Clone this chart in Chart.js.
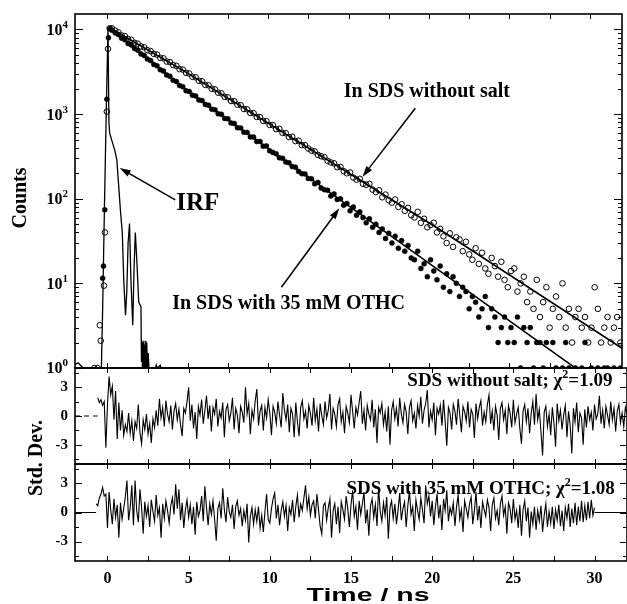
<!DOCTYPE html>
<html>
<head>
<meta charset="utf-8">
<script src="https://cdn.jsdelivr.net/npm/chart.js@4.4.1/dist/chart.umd.min.js"></script>
<style>
  html, body { margin: 0; padding: 0; background: #fff; }
  #wrap { position: relative; width: 627px; height: 604px; }
  #wrap canvas { position: absolute; left: 0; top: 0; }
</style>
</head>
<body>
<div id="wrap">
  <canvas id="decay" width="627" height="604"></canvas>
  <canvas id="res1" width="627" height="604"></canvas>
  <canvas id="res2" width="627" height="604"></canvas>
</div>
<script>
// Decaimentos (contagens), grade de canais de 0.3 a 31.9 ns
const decayStart = 0.3, decayStep = 0.2;
const countsNoSalt = [
  10300, 9700, 9250, 8500, 8350, 7700, 7550, 6950, 6800, 6300,
  6150, 5700, 5560, 5150, 5050, 4620, 4560, 4180, 4120, 3800,
  3720, 3400, 3360, 3080, 3020, 2760, 2720, 2480, 2440, 2210,
  2190, 1990, 1960, 1790, 1760, 1600, 1580, 1430, 1420, 1290,
  1275, 1150, 1140, 1030, 1025, 925, 920, 830, 825, 745,
  740, 665, 670, 600, 595, 535, 540, 480, 485, 430,
  428, 392, 370, 362, 330, 318, 310, 280, 268, 262,
  236, 238, 212, 200, 204, 178, 168, 172, 150, 146,
  150, 128, 120, 126, 104, 112, 96, 90, 98, 80,
  86, 72, 78, 64, 60, 70, 52, 58, 46, 49,
  52, 40, 44, 36, 30, 39, 27, 35, 33, 24,
  31, 22, 19, 26, 17, 23, 15, 13, 20, 16,
  12, 18, 11, 9, 14, 15, 8, 10, 12, 6,
  8, 5, 11, 4, 6, 9, 3, 5, 7, 4,
  10, 3, 5, 2, 4, 5, 3, 4, 2, 3,
  9, 5, 2, 3, 4, 2, 3, 4, 2
];
const countsOTHC = [
  9800, 9100, 8700, 7900, 7550, 6850, 6560, 5950, 5700, 5150,
  4930, 4470, 4290, 3870, 3720, 3350, 3230, 2900, 2800, 2510,
  2430, 2180, 2110, 1890, 1850, 1670, 1640, 1470, 1445, 1300,
  1275, 1145, 1125, 1010, 995, 890, 880, 785, 775, 692,
  686, 610, 608, 538, 536, 474, 474, 418, 420, 368,
  352, 340, 305, 300, 272, 266, 240, 236, 210, 198,
  196, 174, 172, 150, 156, 134, 128, 126, 108, 114,
  98, 100, 84, 88, 72, 80, 64, 70, 60, 52,
  58, 46, 50, 40, 44, 34, 39, 30, 36, 26,
  32, 24, 28, 20, 19, 24, 15, 17, 12, 19,
  14, 11, 16, 9, 13, 8, 12, 10, 7, 9,
  8, 5, 7, 6, 4, 5, 7, 3, 5, 4,
  2, 3, 4, 2, 3, 2, 4, 1, 3, 2,
  3, 1, 2, 2, 1, 2, null, 2, 1, null,
  1, 2, 1, null, 1, null, 1, 2, null, 1,
  null, 1, null, 1, 1, null, 1, null, 1
];
// subida antes do pico
const riseNoSaltT = [-0.8, -0.6, -0.46, -0.4, -0.2, -0.14, -0.02, 0.05, 0.15];
const riseNoSaltC = [1, 1, 3.2, 2.1, 9.4, 40, 1070, 5900, 10300];
const riseOTHCT = [-0.28, -0.23, -0.15, -0.02, 0.08, 0.18];
const riseOTHCC = [11.5, 16, 74, 1500, 8000, 10300];
// IRF
const irfT = [-2.0, -1.8, -1.6, -1.5, -0.36, -0.28, -0.17, -0.06, 0.05, 0.11, 0.154, 0.3, 0.46, 0.6,
  0.73, 0.83, 0.94, 1.03, 1.14, 1.22, 1.3, 1.39, 1.47, 1.59, 1.67, 1.75, 1.86, 1.96, 2.1,
  2.13, 2.16, 2.19, 2.22, 2.25, 2.28, 2.31, 2.34, 2.37, 2.4, 2.43, 2.46, 2.5, 2.55, 2.6,
  3.0, 3.05, 3.1, 3.3, 3.35, 3.4, 32];
const irfC = [1.1, 1.15, 1.05, 1, 1, 5.2, 79, 1000, 10470, 790, 600, 480, 380, 288,
  130, 70, 40, 11, 4.2, 8, 30, 51, 12, 3.2, 15, 40, 16, 6, 5.3,
  1.2, 2.1, 1, 2, 1.1, 2.1, 1, 1.9, 1, 2.1, 1, 2, 1, 1.5, 1,
  1, 1.08, 1, 1.08, 1, 1, 1];
// curvas ajustadas
const fitNoSaltT = [0.15, 4.87, 20.67, 32];
const fitNoSaltC = [10470, 3160, 43.3, 1.71];
const fitOTHCT = [0.15, 4.87, 18.0, 29.0];
const fitOTHCC = [10470, 1950, 32.4, 1.03];

// Resíduos (desvio padrão), passo de 0.1 ns
const resStep = 0.1;
const resNoSaltStart = -0.6;
const resNoSalt = [
  1.9, 1.4, 1.7, 1.1, 1.5, -3.3, 1.2, 4.1, 2.2, 3.1,
  -0.4, 2.6, -2.4, 1.4, -1.5, 0.6, -2.0, -0.9, -1.6, 0.3,
  -1.8, -0.5, -2.6, -0.6, -1.3, 1.2, -1.7, -2.9, -0.4, -1.4,
  0.2, -1.9, -0.8, -2.8, -0.3, -1.2, 0.6, -1.0, 1.8, -0.2,
  0.9, -1.1, 1.6, 0.2, -0.6, 1.1, -1.4, 0.5, 1.3, -0.4,
  0.7, -0.9, -2.1, 0.8, 0.3, 1.5, 3.0, -0.5, 1.2, -1.3,
  0.4, -2.4, 1.0, 0.1, 1.7, -0.8, 0.6, 2.1, -0.3, 1.1,
  -1.6, 0.9, 0.2, 1.8, -1.1, 0.5, -0.2, 1.4, -2.2, 0.7,
  1.2, -0.5, 0.3, 1.9, -1.4, 0.8, 0.1, -1.8, 1.0, 0.4,
  -0.7, 3.0, 0.2, 1.3, -1.9, 0.6, -0.3, 1.6, 2.8, -1.0,
  0.5, 1.1, -1.5, 0.9, -0.2, 1.7, 0.3, -2.0, 1.0, 0.4,
  -0.8, 1.5, 0.1, -1.2, 2.4, 0.6, -0.4, 1.2, -1.7, 0.8,
  0.2, -2.2, 1.4, -0.6, -2.1, 0.9, 1.6, -0.3, 0.5, -1.3,
  1.1, 0.3, -1.0, 1.9, -0.5, 0.7, -1.6, 1.3, 0.0, -0.9,
  1.5, -0.2, 0.6, 2.3, -1.4, 0.8, 0.2, -1.1, 1.2, 1.8,
  -0.6, 0.4, -1.8, 1.0, 0.3, -0.7, 2.2, 0.5, -1.3, 0.9,
  0.1, 1.4, 2.6, -0.8, 0.6, -1.5, 1.1, 0.2, -0.4, 1.7,
  -1.2, 0.7, -2.8, 0.9, 0.3, 1.3, -0.9, 0.4, -1.6, 1.0,
  -3.0, 0.6, 1.5, -0.3, 0.8, -1.1, 1.9, 0.2, -0.7, 1.2,
  0.4, -1.9, 0.9, 1.6, -0.5, 0.3, -1.3, 1.1, 0.0, 2.0,
  -0.8, 0.6, 1.3, 2.7, -1.2, 0.5, -0.4, 1.4, -2.0, 0.8,
  0.2, 1.1, -1.0, 1.7, -0.6, -3.1, 0.9, 0.3, -1.4, 1.2,
  0.5, -0.9, 1.8, 0.1, -1.7, 1.0, 0.4, -0.5, 1.5, -1.2,
  0.7, 0.2, -2.3, 1.3, -0.3, 0.9, 1.6, -1.0, 0.4, -0.6,
  1.2, 2.2, -0.8, 0.5, -1.5, 1.0, 0.1, -2.5, 0.8, 1.4,
  -0.4, 0.6, -1.9, 1.1, 0.3, -1.2, 1.7, -0.7, 0.2, 0.9,
  -1.3, -2.9, 0.5, 1.2, -0.6, 0.8, -1.8, 0.3, 1.5, -0.9,
  2.3, -0.4, 0.7, -1.6, -4.1, 0.4, 1.0, -1.1, 0.2, -2.0,
  0.9, -0.7, -3.2, 1.3, -0.5, 0.6, -1.4, 0.1, 1.1, -2.2,
  0.5, -1.0, -3.9, 0.8, -0.6, 1.4, -1.7, 0.3, -0.2, -3.0,
  0.7, -1.2, 1.0, -0.4, 0.4, -1.5, 1.2, -0.3, 0.2, 2.1,
  -0.8, 0.6, -1.3, 1.0, 0.1, -0.9, 1.5, -0.4, 0.8, -1.6,
  0.5, 1.2, -0.7, 0.3, -1.1, 0.9, 0.2
];
const resOTHCStart = -0.7;
const resOTHC = [
  0.9, 0.7, 1.5, 1.9, 2.6, 1.7, 1.9, -1.6, 2.1, 0.3,
  -1.2, 1.4, -0.5, 0.8, -2.6, 1.0, -0.7, 0.4, 1.6, 3.3,
  -0.8, 0.5, 2.8, -1.3, 3.3, 0.2, -1.0, 2.4, 0.6, -2.2,
  1.1, -0.4, 0.7, -1.5, 1.3, 0.1, -0.9, 1.8, -0.3, 0.5,
  -2.6, 0.9, -0.6, 1.2, 0.2, -1.1, 0.7, 1.5, -0.2, 2.9,
  0.4, 2.4, -0.8, 1.0, -1.6, 0.3, 1.3, -0.5, 0.8, -1.2,
  0.6, -2.3, 1.1, -0.4, 0.2, 1.7, -0.9, 2.7, 0.5, -1.3,
  0.9, -0.2, 1.2, -0.7, -2.9, 0.4, 1.0, -0.6, 2.5, 0.3,
  -1.0, 1.6, 0.1, -0.5, 0.8, -1.7, 0.6, 1.2, -0.3, 0.4,
  -1.4, 0.2, -0.8, 0.9, -3.1, -0.4, 0.5, -1.2, 0.3, -0.9,
  0.6, -1.6, -0.3, -2.0, 0.1, 1.9, -0.7, -1.1, 0.4, 1.4,
  2.0, -0.6, 0.8, -1.3, 0.2, 1.1, -0.4, 0.7, -1.9, 0.5,
  -0.2, 1.3, -1.0, 0.6, 1.8, -0.5, 0.9, 0.2, 1.5, 2.8,
  0.4, 1.6, -0.3, 0.8, 1.2, -0.6, 1.9, 0.3, -1.4, -2.2,
  0.7, 1.0, -0.8, 0.5, 1.4, -2.6, 0.2, 0.9, -1.2, 0.6,
  -2.1, 1.1, 0.3, -0.7, 1.7, 0.4, -1.5, 0.8, 2.3, -0.4,
  0.6, -1.8, 1.2, -0.2, 0.9, 2.1, -1.1, 0.3, -2.4, 0.7,
  1.4, -0.5, 0.8, -1.4, 2.6, 0.1, -0.9, 1.0, -0.3, 1.6,
  -2.7, 0.5, 1.2, -0.6, 0.9, -1.2, 0.3, 2.0, -0.8, 0.4,
  1.1, -1.5, 0.7, 2.2, -0.2, 0.6, -1.9, 1.3, 0.2, -0.7,
  1.5, 0.3, -1.1, 2.8, 0.9, 1.7, -0.4, 1.2, -1.3, 0.6,
  1.9, -0.6, 0.8, -1.8, 1.4, 0.2, 2.3, -0.9, 0.5, -0.2,
  1.0, -1.4, 0.6, 1.8, -0.7, 0.3, -2.0, 1.2, 0.4, -0.5,
  0.9, 1.6, -1.2, 0.2, 2.1, -0.8, 0.7, -1.6, 1.1, 0.3,
  -0.4, 1.3, 0.5, -1.9, 0.8, 1.5, -0.6, 0.2, -1.3, 0.9,
  1.7, -0.3, 0.6, -2.2, 1.0, 0.4, -1.1, 1.4, -0.7, 0.2,
  -1.6, 0.8, -2.4, 0.3, 1.2, -0.9, 0.5, -2.6, 0.1, -1.2,
  0.6, -1.8, 0.2, -0.9, 0.7, -2.0, -0.3, 0.9, -1.5, 0.1,
  -1.1, 0.6, -1.7, 0.3, -0.8, 0.8, -1.4, 0.2, -1.9, 0.5,
  -0.6, 0.9, -1.5, 0.4, -1.1, 1.0, -1.3, 0.6, -0.9, 1.2,
  -1.0, 0.7, -0.8, 1.1, -0.6, 1.3, -0.3, 0.5
];
// trechos fora do intervalo de ajuste (resíduo zero)
const zeroNoSaltT = [-2, -0.6];
const zeroOTHCLeftT = [-2, -0.7];
const zeroOTHCRightT = [30, 32];

const SERIF = '"Liberation Serif", "DejaVu Serif", serif';
const SANS = '"Liberation Sans", Arial, sans-serif';
Chart.defaults.font.family = SERIF;
Chart.defaults.color = '#000';

const pairs = (ts, vs) => ts.map((t, i) => ({ x: t, y: vs[i] }));
const onGrid = (start, step, vs) => vs.map((v, i) => ({ x: +(start + i * step).toFixed(2), y: v }));

// texto com sobrescrito: partes [texto, tamanho, elevação]
function drawRich(ctx, parts, x, yMid, align) {
  const base = parts[0][1];
  const widths = parts.map(([s, size]) => { ctx.font = `bold ${size}px ${SERIF}`; return ctx.measureText(s).width; });
  const total = widths.reduce((a, b) => a + b, 0);
  let cx = align === 'right' ? x - total : align === 'center' ? x - total / 2 : x;
  ctx.textAlign = 'left';
  ctx.textBaseline = 'alphabetic';
  parts.forEach(([s, size, raise], i) => {
    ctx.font = `bold ${size}px ${SERIF}`;
    ctx.fillText(s, cx, yMid + base * 0.34 - raise);
    cx += widths[i];
  });
}

function drawArrow(ctx, x1, y1, x2, y2) {
  const a = Math.atan2(y2 - y1, x2 - x1), hl = 11, hw = 3.5;
  const c = Math.cos(a), s = Math.sin(a);
  ctx.beginPath();
  ctx.moveTo(x1, y1);
  ctx.lineTo(x2 - c * hl * 0.7, y2 - s * hl * 0.7);
  ctx.stroke();
  ctx.beginPath();
  ctx.moveTo(x2, y2);
  ctx.lineTo(x2 - c * hl + s * hw, y2 - s * hl - c * hw);
  ctx.lineTo(x2 - c * hl - s * hw, y2 - s * hl + c * hw);
  ctx.closePath();
  ctx.fill();
}

function drawVTitle(ctx, text, x, y) {
  ctx.save();
  ctx.translate(x, y);
  ctx.rotate(-Math.PI / 2);
  ctx.font = `bold 20px ${SERIF}`;
  ctx.textAlign = 'center';
  ctx.textBaseline = 'middle';
  ctx.fillText(text, 0, 0);
  ctx.restore();
}

// moldura e marcas para dentro nos quatro lados
const frameTicks = {
  id: 'frameTicks',
  afterDatasetsDraw(chart) {
    const { ctx, chartArea: a } = chart;
    const xs = chart.scales.x, ys = chart.scales.y;
    const isLog = ys.type === 'logarithmic';
    ctx.save();
    ctx.strokeStyle = '#000';
    ctx.lineWidth = 1;
    ctx.beginPath();
    xs.ticks.forEach(t => {
      if (Math.abs(t.value / 2.5 - Math.round(t.value / 2.5)) > 1e-6) return;
      const px = Math.round(xs.getPixelForValue(t.value)) + 0.5;
      ctx.moveTo(px, a.bottom); ctx.lineTo(px, a.bottom - 5);
      ctx.moveTo(px, a.top); ctx.lineTo(px, a.top + 5);
    });
    ys.ticks.forEach(t => {
      let len;
      if (isLog) {
        const e = Math.floor(Math.log10(t.value) + 1e-9);
        const m = t.value / Math.pow(10, e);
        if (Math.abs(m - Math.round(m)) > 1e-6) return;
        len = Math.round(m) === 1 ? 8 : 4;
      } else {
        len = Math.abs(t.value % 3) < 1e-6 ? 7 : 4;
      }
      const py = Math.round(ys.getPixelForValue(t.value)) + 0.5;
      ctx.moveTo(a.left, py); ctx.lineTo(a.left + len, py);
      ctx.moveTo(a.right, py); ctx.lineTo(a.right - len, py);
    });
    ctx.stroke();
    ctx.lineWidth = 1.6;
    ctx.strokeRect(a.left, a.top, a.right - a.left, a.bottom - a.top);
    ctx.restore();
  }
};

// anotações do painel de decaimento (posições em coordenadas de dados)
const decayLabels = [
  { text: 'In SDS without salt', t: 19.87, c: 1930, size: 20, align: 'center' },
  { text: 'IRF', t: 4.29, c: 92, size: 25, align: 'left' },
  { text: 'In SDS with 35 mM OTHC', t: 4.04, c: 6.0, size: 20, align: 'left' }
];
const decayArrows = [
  { from: [19.15, 1175], to: [15.87, 182] },
  { from: [4.23, 97], to: [0.78, 231] },
  { from: [10.83, 9.0], to: [14.43, 77] }
];

const decayNotes = {
  id: 'decayNotes',
  afterDraw(chart) {
    const { ctx } = chart;
    const xs = chart.scales.x, ys = chart.scales.y;
    ctx.save();
    ctx.fillStyle = '#000';
    ctx.strokeStyle = '#000';
    ys.ticks.forEach(tk => {
      const e = Math.log10(tk.value);
      if (Math.abs(e - Math.round(e)) > 1e-9) return;
      drawRich(ctx, [['10', 16, 0], [String(Math.round(e)), 11, 7]], 68, ys.getPixelForValue(tk.value), 'right');
    });
    drawVTitle(ctx, 'Counts', 21, 198);
    decayLabels.forEach(l => {
      drawRich(ctx, [[l.text, l.size, 0]], xs.getPixelForValue(l.t), ys.getPixelForValue(l.c), l.align);
    });
    ctx.lineWidth = 1.5;
    decayArrows.forEach(a => {
      drawArrow(ctx, xs.getPixelForValue(a.from[0]), ys.getPixelForValue(a.from[1]),
        xs.getPixelForValue(a.to[0]), ys.getPixelForValue(a.to[1]));
    });
    ctx.restore();
  }
};

const xHidden = { type: 'linear', min: -2, max: 32, display: false, ticks: { stepSize: 2.5, includeBounds: false } };
const resY = {
  type: 'linear', min: -5, max: 5,
  grid: { display: false, drawTicks: false },
  border: { display: false },
  ticks: {
    stepSize: 1.5, includeBounds: false, autoSkip: false, padding: 7,
    font: { family: SERIF, weight: 'bold', size: 15 },
    callback: v => (Math.abs(v % 3) < 1e-6 ? String(Math.round(v)) : '')
  },
  afterFit: s => { s.width = 75; }
};
const common = {
  responsive: false,
  animation: false,
  events: [],
  plugins: { legend: { display: false }, tooltip: { enabled: false } }
};

// painel superior: decaimentos
new Chart(document.getElementById('decay'), {
  type: 'line',
  data: {
    datasets: [
      { data: pairs(fitNoSaltT, fitNoSaltC), borderColor: '#000', borderWidth: 1.6, pointRadius: 0 },
      { data: pairs(fitOTHCT, fitOTHCC), borderColor: '#000', borderWidth: 1.6, pointRadius: 0 },
      { data: onGrid(decayStart, decayStep, countsOTHC), showLine: false, pointRadius: 2.5,
        pointBackgroundColor: '#000', pointBorderColor: '#000', pointBorderWidth: 0.5 },
      { data: pairs(riseOTHCT, riseOTHCC), showLine: false, pointRadius: 2.5,
        pointBackgroundColor: '#000', pointBorderColor: '#000', pointBorderWidth: 0.5 },
      { data: onGrid(decayStart, decayStep, countsNoSalt), showLine: false, pointRadius: 2.8,
        pointBackgroundColor: 'rgba(255,255,255,0)', pointBorderColor: '#000', pointBorderWidth: 1 },
      { data: pairs(riseNoSaltT, riseNoSaltC), showLine: false, pointRadius: 2.8,
        pointBackgroundColor: 'rgba(255,255,255,0)', pointBorderColor: '#000', pointBorderWidth: 1 },
      { data: pairs(irfT, irfC), borderColor: '#000', borderWidth: 1.3, pointRadius: 0 }
    ]
  },
  options: {
    ...common,
    layout: { padding: { top: 14, right: 0, bottom: 236, left: 0 } },
    scales: {
      x: xHidden,
      y: {
        type: 'logarithmic', min: 1, max: 15240,
        grid: { display: false, drawTicks: false },
        border: { display: false },
        ticks: { display: false, autoSkip: false },
        afterFit: s => { s.width = 75; }
      }
    }
  },
  plugins: [frameTicks, decayNotes]
});

// painel do meio: resíduos sem sal
new Chart(document.getElementById('res1'), {
  type: 'line',
  data: {
    datasets: [
      { data: onGrid(resNoSaltStart, resStep, resNoSalt), borderColor: '#000', borderWidth: 1.1, pointRadius: 0 },
      { data: zeroNoSaltT.map(t => ({ x: t, y: 0 })), borderColor: '#000', borderWidth: 1.2, borderDash: [5, 4], pointRadius: 0 }
    ]
  },
  options: {
    ...common,
    layout: { padding: { top: 368, right: 0, bottom: 140, left: 0 } },
    scales: { x: xHidden, y: resY }
  },
  plugins: [frameTicks, {
    id: 'res1Notes',
    afterDraw(chart) {
      const { ctx } = chart;
      ctx.save();
      ctx.fillStyle = '#000';
      drawRich(ctx, [['SDS without salt; χ', 19, 0], ['2', 12, 8], ['=1.09', 19, 0]],
        chart.scales.x.getPixelForValue(31.1), chart.scales.y.getPixelForValue(3.75), 'right');
      ctx.restore();
    }
  }]
});

// painel inferior: resíduos com OTHC
new Chart(document.getElementById('res2'), {
  type: 'line',
  data: {
    datasets: [
      { data: onGrid(resOTHCStart, resStep, resOTHC), borderColor: '#000', borderWidth: 1.1, pointRadius: 0 },
      { data: zeroOTHCLeftT.map(t => ({ x: t, y: 0 })), borderColor: '#000', borderWidth: 1, pointRadius: 0 },
      { data: zeroOTHCRightT.map(t => ({ x: t, y: 0 })), borderColor: '#000', borderWidth: 1, pointRadius: 0 }
    ]
  },
  options: {
    ...common,
    layout: { padding: { top: 464, right: 0, bottom: 0, left: 0 } },
    scales: {
      x: {
        type: 'linear', min: -2, max: 32,
        grid: { display: false, drawTicks: false },
        border: { display: false },
        ticks: {
          stepSize: 2.5, includeBounds: false, autoSkip: false, maxRotation: 0, padding: 8,
          font: { family: SERIF, weight: 'bold', size: 16 },
          callback: v => (Math.abs(v % 5) < 1e-6 ? String(Math.round(v)) : '')
        },
        afterFit: s => { s.height = 43; }
      },
      y: resY
    }
  },
  plugins: [frameTicks, {
    id: 'res2Notes',
    afterDraw(chart) {
      const { ctx } = chart;
      ctx.save();
      ctx.fillStyle = '#000';
      drawRich(ctx, [['SDS with 35 mM OTHC; χ', 19, 0], ['2', 12, 8], ['=1.08', 19, 0]],
        chart.scales.x.getPixelForValue(31.25), chart.scales.y.getPixelForValue(2.6), 'right');
      drawVTitle(ctx, 'Std. Dev.', 37, 458);
      // título do eixo x, mais largo como no original
      ctx.translate(368, 601);
      ctx.scale(1.5, 1);
      ctx.font = `bold 19px ${SANS}`;
      ctx.textAlign = 'center';
      ctx.textBaseline = 'alphabetic';
      ctx.fillText('Time / ns', 0, 0);
      ctx.restore();
    }
  }]
});
</script>
</body>
</html>
